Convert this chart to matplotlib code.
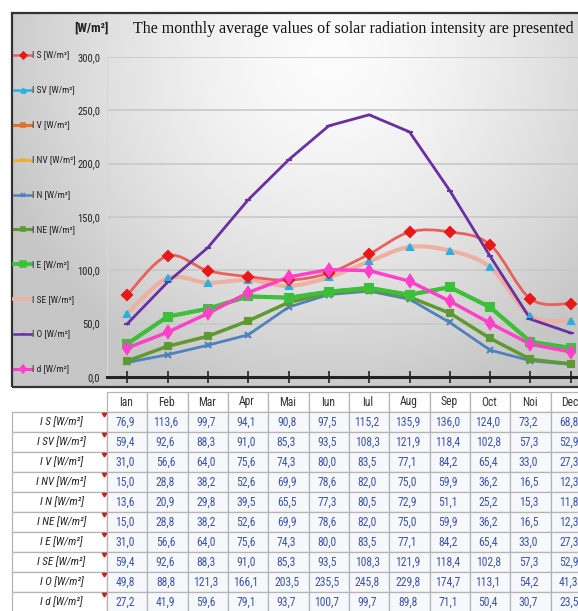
import numpy as np
import matplotlib
matplotlib.use("Agg")
import matplotlib.pyplot as plt
from matplotlib import font_manager
from matplotlib.path import Path
from matplotlib.patches import PathPatch, Rectangle
from matplotlib.lines import Line2D

# ---- data -------------------------------------------------------------
months = ["Ian", "Feb", "Mar", "Apr", "Mai", "Iun", "Iul", "Aug", "Sep", "Oct", "Noi", "Dec"]
series_keys = ["S", "SV", "V", "NV", "N", "NE", "E", "SE", "O", "d"]

I_S  = [76.9, 113.6, 99.7, 94.1, 90.8, 97.5, 115.2, 135.9, 136.0, 124.0, 73.2, 68.8]
I_SV = [59.4, 92.6, 88.3, 91.0, 85.3, 93.5, 108.3, 121.9, 118.4, 102.8, 57.3, 52.9]
I_V  = [31.0, 56.6, 64.0, 75.6, 74.3, 80.0, 83.5, 77.1, 84.2, 65.4, 33.0, 27.3]
I_NV = [15.0, 28.8, 38.2, 52.6, 69.9, 78.6, 82.0, 75.0, 59.9, 36.2, 16.5, 12.3]
I_N  = [13.6, 20.9, 29.8, 39.5, 65.5, 77.3, 80.5, 72.9, 51.1, 25.2, 15.3, 11.8]
I_NE = [15.0, 28.8, 38.2, 52.6, 69.9, 78.6, 82.0, 75.0, 59.9, 36.2, 16.5, 12.3]
I_E  = [31.0, 56.6, 64.0, 75.6, 74.3, 80.0, 83.5, 77.1, 84.2, 65.4, 33.0, 27.3]
I_SE = [59.4, 92.6, 88.3, 91.0, 85.3, 93.5, 108.3, 121.9, 118.4, 102.8, 57.3, 52.9]
I_O  = [49.8, 88.8, 121.3, 166.1, 203.5, 235.5, 245.8, 229.8, 174.7, 113.1, 54.2, 41.3]
I_d  = [27.2, 41.9, 59.6, 79.1, 93.7, 100.7, 99.7, 89.8, 71.1, 50.4, 30.7, 23.5]

values = {"S": I_S, "SV": I_SV, "V": I_V, "NV": I_NV, "N": I_N,
          "NE": I_NE, "E": I_E, "SE": I_SE, "O": I_O, "d": I_d}
y_ticks = [0, 50, 100, 150, 200, 250, 300]

# ---- styles -----------------------------------------------------------
style = {
    "S":  dict(color="#e8605a", mc="#e81818", marker="D", ms=5, lw=2.0, smooth=True),
    "SV": dict(color="#2ab0e0", mc="#2ab0e0", marker="^", ms=5, lw=2.0, smooth=True),
    "V":  dict(color="#e07030", mc="#e07030", marker="s", ms=5, lw=2.5, smooth=False),
    "NV": dict(color="#f0b020", mc="#f0b020", marker="x", ms=5, lw=2.0, smooth=False),
    "N":  dict(color="#4f81bd", mc="#4f81bd", marker="x", ms=5, lw=2.0, smooth=False),
    "NE": dict(color="#5e9a32", mc="#5e9a32", marker="s", ms=5, lw=2.5, smooth=False),
    "E":  dict(color="#3cc03c", mc="#3cc03c", marker="s", ms=6, lw=3.0, smooth=False),
    "SE": dict(color="#eeb0a0", mc=None, marker=None, ms=0, lw=3.0, smooth=True),
    "O":  dict(color="#6a2fa0", mc="#6a2fa0", marker="_", ms=5, lw=2.0, smooth=False),
    "d":  dict(color="#ff40c8", mc="#ff40c8", marker="d", ms=6, lw=2.5, smooth=False),
}

# a condensed sans face if one is installed, otherwise a narrow-ish regular one
_installed = {f.name for f in font_manager.fontManager.ttflist}
_cands = ["Liberation Sans Narrow", "Roboto Condensed", "Open Sans Condensed",
          "DejaVu Sans Condensed", "Noto Sans Condensed", "Roboto", "Liberation Sans"]
NARROW_NAME = next((c for c in _cands if c in _installed), "DejaVu Sans")
NARROW = [NARROW_NAME, "DejaVu Sans"]
_condensed = "Condensed" in NARROW_NAME or "Narrow" in NARROW_NAME
FS_LEG = 6.8 if _condensed else 6.0
FS_TICK = 7.6 if _condensed else 6.8
FS_TAB = 8.4 if _condensed else 7.4

W, H = 578, 611
fig = plt.figure(figsize=(W / 100, H / 100), dpi=100)
fig.patch.set_facecolor("white")


def fx(x):
    return x / W


def fy(y):
    return 1 - y / H


# ---- chart area background (soft radial gradient) ---------------------
frame_l, frame_t, frame_r, frame_b = 12, 12.7, 590, 387
bg = fig.add_axes([fx(frame_l), fy(frame_b), fx(frame_r - frame_l), (frame_b - frame_t) / H])
gx, gy = np.meshgrid(np.linspace(0, 1, 300), np.linspace(0, 1, 200))
r = np.sqrt(((gx - 0.55) / 0.60) ** 2 + ((gy - 0.12) / 0.95) ** 2)
shade = 252 - 54 * np.clip(r, 0, 1) ** 1.5
img = np.dstack([shade, shade, shade]) / 255.0
bg.imshow(img, aspect="auto", extent=[0, 1, 1, 0], interpolation="bilinear")
bg.set_xlim(0, 1)
bg.set_ylim(1, 0)
bg.axis("off")
fig.patches.append(Rectangle((fx(frame_l), fy(frame_b)), fx(frame_r - frame_l),
                             (frame_b - frame_t) / H, transform=fig.transFigure,
                             fill=False, edgecolor="#333333", lw=1.6, zorder=5))

# ---- plot axes --------------------------------------------------------
ax = fig.add_axes([fx(107), fy(377), fx(591 - 107), (377 - 57) / H])
ax.patch.set_alpha(0)
ax.set_xlim(-0.5, 11.5)
ax.set_ylim(0, 300)
x = np.arange(len(months))


def smooth_path(xs, ys):
    pts = np.column_stack([xs, ys]).astype(float)
    n = len(pts)
    verts = [pts[0]]
    codes = [Path.MOVETO]
    for i in range(n - 1):
        p0 = pts[i - 1] if i > 0 else pts[i]
        p1 = pts[i]
        p2 = pts[i + 1]
        p3 = pts[i + 2] if i + 2 < n else pts[i + 1]
        c1 = p1 + (p2 - p0) / 6.0
        c2 = p2 - (p3 - p1) / 6.0
        verts += [c1, c2, p2]
        codes += [Path.CURVE4] * 3
    return Path(verts, codes)


order = ["V", "NV", "SV", "SE", "S", "O", "N", "NE", "E", "d"]
for z, k in enumerate(order):
    st = style[k]
    vals = values[k]
    if st["smooth"]:
        ax.add_patch(PathPatch(smooth_path(x, vals), fill=False, edgecolor=st["color"],
                               lw=st["lw"], zorder=3 + z, capstyle="round", joinstyle="round"))
    else:
        ax.plot(x, vals, color=st["color"], lw=st["lw"], zorder=3 + z, solid_joinstyle="round")
# markers on top of the lines
for z, k in enumerate(order):
    st = style[k]
    if st["marker"] is None or k in ("V", "NV"):
        continue
    ax.plot(x, values[k], linestyle="none", marker=st["marker"], ms=st["ms"],
            color=st["mc"], mec=st["mc"], mew=1.5, zorder=20 + z)

ax.set_yticks(y_ticks)
ax.set_yticklabels([f"{v:.1f}".replace(".", ",") for v in y_ticks],
                   fontsize=FS_TICK, family=NARROW, color="#222222")
ax.tick_params(axis="y", length=0, pad=5)
ax.yaxis.grid(True, color="#c8c8c8", lw=1.2)
ax.set_axisbelow(True)
ax.set_xticks(x)
ax.set_xticklabels([])
ax.tick_params(axis="x", direction="inout", length=9, width=1.2, color="#222222")
for s in ("top", "right"):
    ax.spines[s].set_visible(False)
ax.spines["left"].set_color("#d8d8d8")
ax.spines["bottom"].set_color("#222222")
ax.spines["bottom"].set_linewidth(2.2)

fig.text(fx(91), fy(28), "[W/m²]", fontsize=FS_TICK + 1.6, family=NARROW, weight="bold",
         color="#222222", ha="center", va="center")
fig.text(fx(133), fy(29), "The monthly average values of solar radiation intensity are presented",
         fontsize=11.5, family=["Liberation Serif", "DejaVu Serif"], color="#111111",
         ha="left", va="center")

# ---- legend column ----------------------------------------------------
leg_y = np.linspace(55, 369, len(series_keys))
for k, yy in zip(series_keys, leg_y):
    st = style[k]
    fig.lines.append(Line2D([fx(14), fx(31)], [fy(yy), fy(yy)], transform=fig.transFigure,
                            color=st["color"], lw=st["lw"] * 0.9, zorder=6))
    if st["marker"] is not None:
        fig.lines.append(Line2D([fx(22.5)], [fy(yy)], transform=fig.transFigure, linestyle="none",
                                marker=st["marker"], ms=st["ms"] - 1.5, color=st["mc"],
                                mec=st["mc"], mew=1.2, zorder=7))
    fig.text(fx(32.5), fy(yy), f"I {k.upper() if k != 'd' else k} [W/m²]", fontsize=FS_LEG,
             family=NARROW, color="#222222", ha="left", va="center", zorder=7)

# ---- data table -------------------------------------------------------
tab = fig.add_axes([0, 0, 1, 1], zorder=-2)
tab.set_xlim(0, W)
tab.set_ylim(H, 0)
tab.axis("off")
col_left = 107
col_w = 484 / 12
head_top, head_bot = 387, 412
row_h = 20.0
grid_c = "#b4b4b4"

# header cells
for j, m in enumerate(months):
    xl = col_left + j * col_w
    tab.add_patch(Rectangle((xl, head_top + 5), col_w, head_bot - head_top - 5,
                            facecolor="white", edgecolor=grid_c, lw=0.9))
    tab.text(xl + col_w / 2 - 1, (head_top + head_bot) / 2 + 2.5, m, fontsize=FS_TAB,
             family=NARROW, color="#333333", ha="center", va="center")

value_c = "#3c55a8"
for i, k in enumerate(series_keys):
    yt = head_bot + i * row_h
    tab.add_patch(Rectangle((frame_l, yt), col_left - frame_l, row_h, facecolor="white",
                            edgecolor=grid_c, lw=0.9))
    label = f"I {k.upper() if k != 'd' else k} [W/m²]"
    tab.text((frame_l + col_left) / 2 + 2, yt + row_h / 2, label, fontsize=FS_TAB - 0.4,
             family=NARROW, style="italic", color="#222222", ha="center", va="center")
    tab.plot([col_left - 3], [yt + 2], marker=(3, 0, 180), ms=3.5, color="#c02020",
             linestyle="none")
    for j, v in enumerate(values[k]):
        xl = col_left + j * col_w
        tab.add_patch(Rectangle((xl, yt), col_w, row_h, facecolor="#f7f8fc",
                                edgecolor=grid_c, lw=0.9))
        tab.text(xl + col_w / 2 - 2, yt + row_h / 2, f"{v:.1f}".replace(".", ","), fontsize=FS_TAB,
                 family=NARROW, color=value_c, ha="center", va="center")

fig.savefig("out.png", dpi=100, facecolor="white")
